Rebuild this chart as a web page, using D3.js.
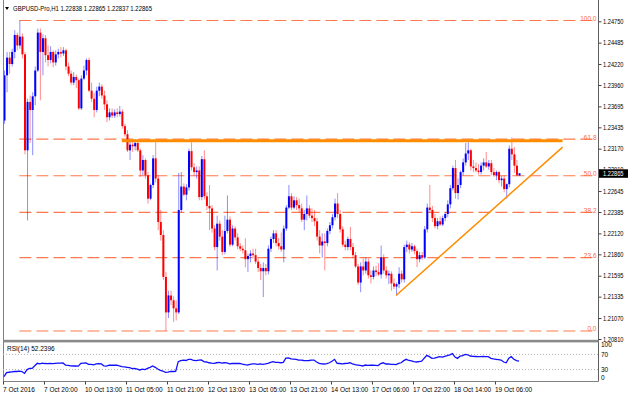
<!DOCTYPE html>
<html><head><meta charset="utf-8">
<script src="https://cdn.jsdelivr.net/npm/d3@7"></script>
<style>html,body{margin:0;padding:0;background:#fff;}svg{display:block}</style>
</head><body><svg id="c" width="628" height="397"></svg>
<script>
const symbolTitle = "GBPUSD-Pro,H1  1.22838 1.22865 1.22837 1.22865";
const opens = [
1.2352,1.2408,1.2430,1.2422,1.2437,1.2458,1.2445,1.2456,1.2434,1.2315,
1.2375,1.2365,1.2382,1.2414,1.2461,1.2437,1.2454,1.2433,1.2427,1.2437,
1.2424,1.2434,1.2437,1.2435,1.2439,1.2419,1.2410,1.2399,1.2406,1.2402,
1.2367,1.2404,1.2414,1.2427,1.2389,1.2379,1.2365,1.2389,1.2394,1.2383,
1.2372,1.2356,1.2362,1.2358,1.2362,1.2360,1.2363,1.2345,1.2335,1.2315,
1.2322,1.2320,1.2324,1.2315,1.2290,1.2303,1.2284,1.2255,1.2272,1.2305,
1.2280,1.2226,1.2210,1.2158,1.2114,1.2135,1.2129,1.2119,1.2114,1.2241,
1.2270,1.2260,1.2269,1.2314,1.2294,1.2288,1.2290,1.2257,1.2304,1.2258,
1.2246,1.2243,1.2218,1.2195,1.2224,1.2208,1.2189,1.2215,1.2229,1.2198,
1.2218,1.2207,1.2196,1.2193,1.2191,1.2180,1.2184,1.2187,1.2185,1.2177,
1.2169,1.2165,1.2169,1.2165,1.2193,1.2205,1.2212,1.2200,1.2196,1.2192,
1.2218,1.2244,1.2258,1.2244,1.2253,1.2247,1.2243,1.2229,1.2236,1.2243,
1.2234,1.2231,1.2227,1.2208,1.2197,1.2202,1.2200,1.2215,1.2222,1.2232,
1.2249,1.2236,1.2217,1.2198,1.2195,1.2205,1.2195,1.2185,1.2171,1.2151,
1.2171,1.2166,1.2177,1.2160,1.2158,1.2166,1.2164,1.2161,1.2182,1.2166,
1.2160,1.2162,1.2150,1.2146,1.2149,1.2162,1.2155,1.2195,1.2198,1.2192,
1.2196,1.2190,1.2180,1.2185,1.2182,1.2217,1.2244,1.2241,1.2231,1.2221,
1.2227,1.2223,1.2231,1.2236,1.2248,1.2268,1.2293,1.2262,1.2272,1.2288,
1.2300,1.2311,1.2315,1.2295,1.2293,1.2290,1.2288,1.2296,1.2300,1.2295,
1.2299,1.2288,1.2284,1.2288,1.2278,1.2280,1.2267,1.2273,1.2317,1.2310,
1.2296,1.22838];
const highs = [
1.2414,1.2437,1.2437,1.2441,1.2464,1.2461,1.2476,1.2460,1.2437,1.2379,
1.2383,1.2387,1.2419,1.2466,1.2466,1.2459,1.2458,1.2445,1.2444,1.2439,
1.2439,1.2441,1.2443,1.2443,1.2441,1.2424,1.2414,1.2412,1.2409,1.2404,
1.2408,1.2420,1.2429,1.2430,1.2399,1.2386,1.2394,1.2399,1.2397,1.2389,
1.2377,1.2367,1.2367,1.2366,1.2367,1.2370,1.2366,1.2348,1.2340,1.2326,
1.2327,1.2329,1.2327,1.2317,1.2309,1.2305,1.2288,1.2274,1.2309,1.2325,
1.2284,1.2241,1.2216,1.2164,1.2141,1.2141,1.2134,1.2129,1.2287,1.2288,
1.2274,1.2273,1.2317,1.2325,1.2299,1.2295,1.2295,1.2308,1.2315,1.2263,
1.2272,1.2247,1.2222,1.2234,1.2228,1.2216,1.2234,1.2259,1.2233,1.2222,
1.2221,1.2212,1.2200,1.2197,1.2206,1.2187,1.2191,1.2193,1.2193,1.2181,
1.2174,1.2176,1.2174,1.2197,1.2208,1.2216,1.2216,1.2206,1.2213,1.2222,
1.2247,1.2272,1.2262,1.2258,1.2257,1.2255,1.2249,1.2241,1.2259,1.2247,
1.2243,1.2241,1.2231,1.2216,1.2212,1.2212,1.2218,1.2226,1.2236,1.2255,
1.2262,1.2241,1.2221,1.2203,1.2208,1.2220,1.2200,1.2189,1.2174,1.2176,
1.2181,1.2182,1.2181,1.2166,1.2171,1.2172,1.2175,1.2197,1.2186,1.2171,
1.2166,1.2165,1.2156,1.2151,1.2170,1.2166,1.2198,1.2203,1.2201,1.2200,
1.2198,1.2193,1.2189,1.2189,1.2221,1.2249,1.2272,1.2246,1.2236,1.2231,
1.2233,1.2234,1.2238,1.2253,1.2272,1.2296,1.2303,1.2280,1.2290,1.2305,
1.2324,1.2325,1.2317,1.2303,1.2300,1.2298,1.2300,1.2305,1.2313,1.2303,
1.2303,1.2293,1.2290,1.2290,1.2283,1.2284,1.2274,1.2321,1.2331,1.2319,
1.2303,1.22865];
const lows = [
1.2348,1.2387,1.2410,1.2419,1.2429,1.2439,1.2441,1.2429,1.2310,1.2228,
1.2324,1.2309,1.2371,1.2412,1.2377,1.2408,1.2424,1.2419,1.2423,1.2418,
1.2420,1.2429,1.2430,1.2432,1.2414,1.2407,1.2396,1.2396,1.2392,1.2365,
1.2365,1.2402,1.2408,1.2387,1.2375,1.2356,1.2362,1.2382,1.2379,1.2365,
1.2350,1.2352,1.2355,1.2355,1.2356,1.2357,1.2342,1.2332,1.2313,1.2303,
1.2313,1.2315,1.2313,1.2282,1.2284,1.2280,1.2249,1.2253,1.2268,1.2275,
1.2216,1.2203,1.2154,1.2091,1.2107,1.2123,1.2102,1.2104,1.2112,1.2238,
1.2258,1.2253,1.2265,1.2290,1.2283,1.2280,1.2253,1.2253,1.2254,1.2241,
1.2216,1.2213,1.2191,1.2166,1.2203,1.2185,1.2186,1.2212,1.2195,1.2196,
1.2203,1.2192,1.2190,1.2187,1.2170,1.2164,1.2176,1.2181,1.2174,1.2164,
1.2154,1.2133,1.2160,1.2161,1.2189,1.2200,1.2196,1.2192,1.2189,1.2176,
1.2215,1.2242,1.2241,1.2242,1.2241,1.2238,1.2226,1.2216,1.2228,1.2231,
1.2226,1.2221,1.2203,1.2187,1.2182,1.2166,1.2196,1.2211,1.2218,1.2228,
1.2231,1.2213,1.2195,1.2191,1.2191,1.2191,1.2181,1.2169,1.2148,1.2139,
1.2160,1.2162,1.2156,1.2150,1.2155,1.2159,1.2159,1.2156,1.2162,1.2156,
1.2149,1.2141,1.2143,1.2135,1.2144,1.2151,1.2151,1.2189,1.2187,1.2189,
1.2186,1.2170,1.2176,1.2179,1.2180,1.2213,1.2238,1.2226,1.2218,1.2217,
1.2221,1.2221,1.2227,1.2232,1.2243,1.2265,1.2255,1.2254,1.2268,1.2284,
1.2296,1.2303,1.2290,1.2288,1.2288,1.2285,1.2285,1.2290,1.2293,1.2291,
1.2284,1.2282,1.2278,1.2274,1.2270,1.2263,1.2255,1.2269,1.2303,1.2287,
1.2283,1.22837];
const closes = [
1.2408,1.2430,1.2422,1.2437,1.2458,1.2445,1.2456,1.2434,1.2315,1.2375,
1.2365,1.2382,1.2414,1.2461,1.2437,1.2454,1.2433,1.2427,1.2437,1.2424,
1.2434,1.2437,1.2435,1.2439,1.2419,1.2410,1.2399,1.2406,1.2402,1.2367,
1.2404,1.2414,1.2427,1.2389,1.2379,1.2365,1.2389,1.2394,1.2383,1.2372,
1.2356,1.2362,1.2358,1.2362,1.2360,1.2363,1.2345,1.2335,1.2315,1.2322,
1.2320,1.2324,1.2315,1.2290,1.2303,1.2284,1.2255,1.2272,1.2305,1.2280,
1.2226,1.2210,1.2158,1.2114,1.2135,1.2129,1.2119,1.2114,1.2241,1.2270,
1.2260,1.2269,1.2314,1.2294,1.2288,1.2290,1.2257,1.2304,1.2258,1.2246,
1.2243,1.2218,1.2195,1.2224,1.2208,1.2189,1.2215,1.2229,1.2198,1.2218,
1.2207,1.2196,1.2193,1.2191,1.2180,1.2184,1.2187,1.2185,1.2177,1.2169,
1.2165,1.2169,1.2165,1.2193,1.2205,1.2212,1.2200,1.2196,1.2192,1.2218,
1.2244,1.2258,1.2244,1.2253,1.2247,1.2243,1.2229,1.2236,1.2243,1.2234,
1.2231,1.2227,1.2208,1.2197,1.2202,1.2200,1.2215,1.2222,1.2232,1.2249,
1.2236,1.2217,1.2198,1.2195,1.2205,1.2195,1.2185,1.2171,1.2151,1.2171,
1.2166,1.2177,1.2160,1.2158,1.2166,1.2164,1.2161,1.2182,1.2166,1.2160,
1.2162,1.2150,1.2146,1.2149,1.2162,1.2155,1.2195,1.2198,1.2192,1.2196,
1.2190,1.2180,1.2185,1.2182,1.2217,1.2244,1.2241,1.2231,1.2221,1.2227,
1.2223,1.2231,1.2236,1.2248,1.2268,1.2293,1.2262,1.2272,1.2288,1.2300,
1.2311,1.2315,1.2295,1.2293,1.2290,1.2288,1.2296,1.2300,1.2295,1.2299,
1.2288,1.2284,1.2288,1.2278,1.2280,1.2267,1.2273,1.2317,1.2310,1.2296,
1.2284,1.22865];
const rsi = [
11.4,22,23,24,25,25,26,25,20,30,
33,33,40,46.5,45,47,46,45.5,46.5,45.5,
46.5,47,47,47.5,42,41,40,39.5,40,39,
46.5,47,47.5,44,44,42.5,45,45.5,45,39.5,
39,42,41.5,42,41.5,39.5,38,37,36,35,
32.5,33,31,29,31,30,33,36,39.5,36,
31.6,28,26.3,22.8,23.5,25.4,25,25.5,51,53.5,
55,54,57,57,54,53.5,55,55.5,51,50,
48,47,46.5,48,49,47,48,47.5,45,46,
46.5,46,46.5,44.5,43,42,44,45,45,44,
45,44,45,46.5,49,51,49,49,48,49,
60,61,58,57.5,57,55,55,54,53.5,54,
55,55,50,46.5,45,44.7,46,48,52,57,
46.5,46,45,46,46.5,48,45,43,42,41,
39.5,42,41,42,41.5,41,40.5,46,48,44.7,
45,44,44,43,46.5,48,53.5,57,54,53,
51,50,51,52,60,67.5,64,59.6,60,62,
64,63,65,66.7,69,72,63,59.6,65.8,67,
70,69,65.8,65,64.5,64,64,64.5,64,64,
59.6,58,57,56,55,50,48,60,64,57,
53.5,52.2396];
const priceTicks = [1.24750,1.24485,1.24220,1.23960,1.23695,1.23435,1.23170,1.22910,1.22645,1.22385,1.22120,1.21860,1.21595,1.21335,1.21070,1.20810];
const timeLabels = ["7 Oct 2016","7 Oct 20:00","10 Oct 13:00","11 Oct 05:00","11 Oct 21:00","12 Oct 13:00","13 Oct 05:00","13 Oct 21:00","14 Oct 13:00","17 Oct 06:00","17 Oct 22:00","18 Oct 14:00","19 Oct 06:00"];
const timeLabelBars = [0,16,32,48,64,80,96,112,128,144,160,176,192];
const fibHigh = 1.2476, fibLow = 1.2091, fibStartBar = 6;
const fibLevels = [0, 23.6, 38.2, 50, 61.8, 100];
const fibLabels = ["0.0","23.6","38.2","50.0","61.8","100.0"];
const resistancePrice = 1.2327, resistanceBars = [46, 218];
const trendBars = [153, 218], trendPrices = [1.2135, 1.2319];
const rsiLevels = [70, 30];
const rsiAxisLabels = ["100","70","30","0"], rsiAxisValues = [100,70,30,0];
const rsiTitle = "RSI(14) 52.2396";
const lastPrice = 1.22865;

const svg = d3.select("#c");
const FONT = "'Liberation Sans', Arial, sans-serif";
const x = d3.scaleLinear().domain([0, 231]).range([4, 595.9]);
const y = d3.scaleLinear().domain([1.20810, 1.24750]).range([339, 21.3]);
const yr = d3.scaleLinear().domain([0, 100]).range([381, 343]);
const L = 3, R = 598.5;
const boxTop = y(lastPrice) - 4;

svg.append("rect").attr("width",628).attr("height",397).attr("fill","#fff");
const defs = svg.append("defs");
defs.append("clipPath").attr("id","mainclip").append("rect")
  .attr("x",L).attr("y",0).attr("width",R-L).attr("height",340);
defs.append("clipPath").attr("id","rsiclip").append("rect")
  .attr("x",L).attr("y",343).attr("width",R-L).attr("height",38);
defs.append("clipPath").attr("id","hidclip").append("rect")
  .attr("x",R).attr("y",0).attr("width",40).attr("height",boxTop);

const main = svg.append("g").attr("clip-path","url(#mainclip)");

// fibonacci levels
fibLevels.forEach((lv,k)=>{
  const p = fibLow + (fibHigh-fibLow)*lv/100;
  main.append("line").attr("x1",x(fibStartBar)).attr("x2",R-1)
    .attr("y1",y(p)).attr("y2",y(p))
    .attr("stroke","#ff7a4d").attr("stroke-width",1.1).attr("stroke-dasharray","12,5");
  main.append("text").attr("x",R-2).attr("y",y(p)+0.5).attr("text-anchor","end")
    .attr("font-family",FONT).attr("font-size","6.5px").attr("fill","#ff6a3a").text(fibLabels[k]);
});

// candles
const bars = d3.range(opens.length);
main.append("g").selectAll("line").data(bars).join("line")
  .attr("x1",i=>x(i)+0.5).attr("x2",i=>x(i)+0.5)
  .attr("y1",i=>y(highs[i])).attr("y2",i=>y(lows[i]))
  .attr("stroke",i=>closes[i]>=opens[i]?"#0000ff":"#ff0000")
  .attr("stroke-opacity",0.45).attr("stroke-width",1);
main.append("g").selectAll("rect").data(bars).join("rect")
  .attr("x",i=>x(i)-0.5).attr("width",2)
  .attr("y",i=>Math.min(y(opens[i]),y(closes[i])))
  .attr("height",i=>Math.max(1,Math.abs(y(opens[i])-y(closes[i]))))
  .attr("fill",i=>closes[i]>=opens[i]?"#0000ff":"#ff0000");

// resistance and trend lines
main.append("line").attr("x1",x(resistanceBars[0])).attr("x2",x(resistanceBars[1]))
  .attr("y1",y(resistancePrice)).attr("y2",y(resistancePrice))
  .attr("stroke","#ff8c00").attr("stroke-width",3);
main.append("line").attr("x1",x(trendBars[0])).attr("x2",x(trendBars[1]))
  .attr("y1",y(trendPrices[0])).attr("y2",y(trendPrices[1]))
  .attr("stroke","#ff8c00").attr("stroke-width",1.5);

// frame
svg.append("line").attr("x1",L+0.5).attr("x2",L+0.5).attr("y1",0).attr("y2",381.5).attr("stroke","#808080");
svg.append("line").attr("x1",R).attr("x2",R).attr("y1",0).attr("y2",381.5).attr("stroke","#606060");
svg.append("rect").attr("x",L).attr("y",339.8).attr("width",R-L).attr("height",2.6).attr("fill","#8a8a8a");
svg.append("line").attr("x1",L).attr("x2",R).attr("y1",381.5).attr("y2",381.5).attr("stroke","#808080");

// price axis
const pa = svg.append("g");
priceTicks.forEach(t=>{
  const hidden = Math.abs(y(t) - y(lastPrice)) < 8;
  pa.append("line").attr("x1",R).attr("x2",R+3).attr("y1",y(t)+0.5).attr("y2",y(t)+0.5).attr("stroke","#404040");
  const tx = pa.append("text").attr("x",603).attr("y",y(t)+2.5).attr("font-family",FONT).attr("font-size","6.5px")
    .attr("textLength",20.5).attr("lengthAdjust","spacingAndGlyphs").attr("fill","#000").text(t.toFixed(5));
  if (hidden) tx.attr("clip-path","url(#hidclip)");
});
svg.append("rect").attr("x",R+0.5).attr("y",boxTop).attr("width",629-R).attr("height",8.5).attr("fill","#000");
svg.append("text").attr("x",603).attr("y",y(lastPrice)+2.8).attr("font-family",FONT).attr("font-size","6.5px")
  .attr("textLength",20.5).attr("lengthAdjust","spacingAndGlyphs").attr("fill","#fff").text(lastPrice.toFixed(5));

// header
svg.append("path").attr("d","M5,7 L9,7 L7,10 Z").attr("fill","#000");
svg.append("text").attr("x",13).attr("y",11).attr("font-family",FONT).attr("font-size","6.5px")
  .attr("textLength",139).attr("lengthAdjust","spacingAndGlyphs").attr("fill","#000").text(symbolTitle);

// RSI panel
const rp = svg.append("g").attr("clip-path","url(#rsiclip)");
rsiLevels.forEach(v=>{
  rp.append("line").attr("x1",L).attr("x2",R).attr("y1",yr(v)).attr("y2",yr(v))
    .attr("stroke","#b0b0b0").attr("stroke-dasharray","1,2");
});
rp.append("path").datum(rsi).attr("fill","none").attr("stroke","#1010ff").attr("stroke-width",1.3)
  .attr("d",d3.line().x((d,i)=>x(i)).y(d=>yr(d)));
svg.append("text").attr("x",7).attr("y",351).attr("font-family",FONT).attr("font-size","6.5px").attr("fill","#000").text(rsiTitle);
rsiAxisValues.forEach((v,k)=>{
  const yy = v===100 ? 347 : (v===0 ? 379.5 : yr(v)+2.5);
  svg.append("text").attr("x",601).attr("y",yy).attr("font-family",FONT).attr("font-size","6.5px").attr("fill","#000").text(rsiAxisLabels[k]);
});

// time axis
timeLabelBars.forEach((b,k)=>{
  svg.append("line").attr("x1",x(b)-0.5).attr("x2",x(b)-0.5).attr("y1",381.5).attr("y2",384.5).attr("stroke","#404040");
  svg.append("text").attr("x",x(b)-1).attr("y",391.5).attr("font-family",FONT).attr("font-size","6.5px").attr("fill","#000").text(timeLabels[k]);
});
</script></body></html>
